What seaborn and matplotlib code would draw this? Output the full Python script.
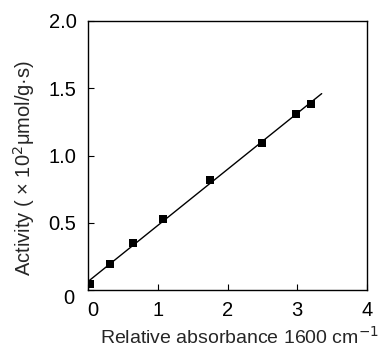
import numpy as np
import pandas as pd
import matplotlib
matplotlib.use("Agg")
import matplotlib.pyplot as plt
import seaborn as sns
from matplotlib.transforms import ScaledTranslation

absorbance = [0.03, 0.31, 0.645, 1.08, 1.75, 2.49, 2.98, 3.20]
activity = [0.045, 0.19, 0.35, 0.53, 0.82, 1.09, 1.31, 1.38]
x_ticks = [0, 1, 2, 3, 4]
x_ticklabels = ["0", "1", "2", "3", "4"]
y_ticks = [0, 0.5, 1.0, 1.5, 2.0]
y_ticklabels = ["0", "0.5", "1.0", "1.5", "2.0"]
fit_range = [0.0, 3.35]

sns.set_theme(style="ticks")
plt.rcParams['font.family'] = ['Liberation Sans', 'DejaVu Sans']

fig = plt.figure(figsize=(3.83, 3.48), dpi=100)
ax = fig.add_axes([87.5/383, 1 - 290/348, (367 - 87.5)/383, (290 - 21)/348])

df = pd.DataFrame({"x": absorbance, "y": activity})
slope, intercept = np.polyfit(absorbance, activity, 1)
line_df = pd.DataFrame({"x": fit_range, "y": [slope * v + intercept for v in fit_range]})

sns.lineplot(data=line_df, x="x", y="y", color="black", linewidth=1.0, ax=ax)
sns.scatterplot(data=df, x="x", y="y", marker="s", s=30, color="black",
                edgecolor="black", linewidth=0, ax=ax, zorder=3)

ax.set_xlim(-0.01, 4)
ax.set_ylim(0, 2.0)
ax.set_xticks(x_ticks)
ax.set_xticklabels(x_ticklabels)
ax.set_yticks(y_ticks)
ax.set_yticklabels(y_ticklabels)
ax.tick_params(direction="in", length=4, width=0.8, labelsize=14.5, colors="black", pad=8)
for s in ax.spines.values():
    s.set_linewidth(1.0)
    s.set_color("black")

ax.set_xlabel("Relative absorbance 1600 cm$^{-1}$", fontsize=14)
ax.xaxis.set_label_coords(0.545, -0.135)
ax.xaxis.label.set_va("top")
ax.set_ylabel("Activity ( × 10$^{2}$μmol/g·s)", fontsize=14.5)
ax.yaxis.set_label_coords(-0.18, 0.455)

# shift the "0" labels like the reference
xl = ax.get_xticklabels()[0]
xl.set_transform(xl.get_transform() + ScaledTranslation(5/100, 0, fig.dpi_scale_trans))
yl = ax.get_yticklabels()[0]
yl.set_transform(yl.get_transform() + ScaledTranslation(-2/100, -7/100, fig.dpi_scale_trans))

fig.savefig("out.png", dpi=100)
